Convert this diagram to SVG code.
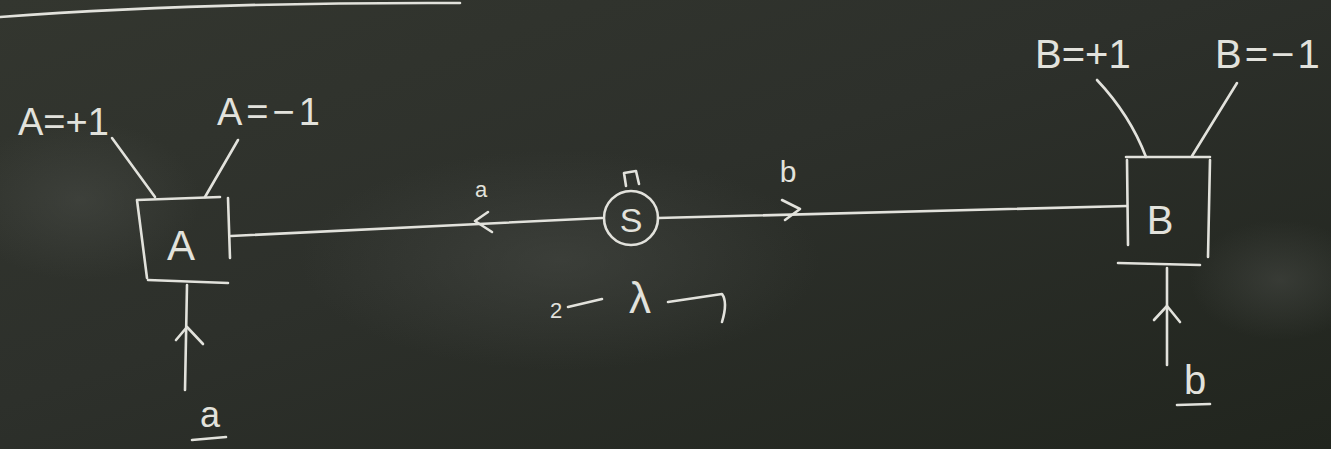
<svg xmlns="http://www.w3.org/2000/svg" width="1331" height="449" viewBox="0 0 1331 449">
<defs>
<linearGradient id="bg" x1="0" y1="0" x2="1" y2="1">
<stop offset="0" stop-color="#33362f"/>
<stop offset="0.45" stop-color="#2d302b"/>
<stop offset="1" stop-color="#21251e"/>
</linearGradient>
<radialGradient id="haze1" cx="0.5" cy="0.5" r="0.5">
<stop offset="0" stop-color="#4a4d48" stop-opacity="0.5"/>
<stop offset="1" stop-color="#4a4d48" stop-opacity="0"/>
</radialGradient>
</defs>
<style>
.ch{fill:none;stroke:#e2e2dc;stroke-width:2.6;stroke-linecap:round;stroke-linejoin:round}
.tx{fill:#e2e2dc;font-family:"Liberation Sans",Arial,sans-serif;font-weight:normal}
</style>
<rect x="0" y="0" width="1331" height="449" fill="url(#bg)"/>
<ellipse cx="560" cy="260" rx="260" ry="110" fill="url(#haze1)"/>
<ellipse cx="1280" cy="280" rx="90" ry="60" fill="url(#haze1)"/>
<ellipse cx="80" cy="200" rx="120" ry="80" fill="url(#haze1)"/>
<path class="ch" d="M0,17 Q200,2 460,3" stroke-width="2.2"/>

<g id="connectors">
<path class="ch" d="M112,138 L155,197"/>
<path class="ch" d="M238,140 L205,197"/>
<path class="ch" d="M231,236 L602,218"/>
<path class="ch" d="M488,212 L475,221 L492,232"/>
<path class="ch" d="M658,218 L1127,206"/>
<path class="ch" d="M782,200 L800,209 L785,220"/>
<path class="ch" d="M1097,80 Q1130,115 1146,157"/>
<path class="ch" d="M1237,83 L1192,156"/>
<path class="ch" d="M187,285 L185,390"/>
<path class="ch" d="M176,340 L187,327 L203,344"/>
<path class="ch" d="M1167,268 L1167,365"/>
<path class="ch" d="M1154,320 L1167,306 L1180,322"/>
</g>

<g id="nodeA">
<path class="ch" d="M137,200 L220,197 M147,278 L137,200 M228,198 L230,258 M148,280 L228,283"/>
<text class="tx" x="181" y="260" font-size="42" text-anchor="middle">A</text>
</g>
<g id="labelA1"><text class="tx" x="18" y="135" font-size="38">A=+1</text></g>
<g id="labelA2"><text class="tx" x="217" y="125" font-size="38" letter-spacing="4">A=−1</text></g>
<g id="inA"><text class="tx" x="210" y="427" font-size="36" text-anchor="middle">a</text><path class="ch" d="M192,440 L226,437"/></g>

<g id="nodeS">
<circle class="ch" cx="631" cy="218" r="27"/>
<path class="ch" d="M626,186 L624,173 L636,171 L639,184"/>
<text class="tx" x="631" y="232" font-size="34" text-anchor="middle">S</text>
</g>
<g id="labela"><text class="tx" x="481" y="197" font-size="22" text-anchor="middle">a</text></g>
<g id="labelb"><text class="tx" x="788" y="182" font-size="30" text-anchor="middle">b</text></g>
<g id="lambda">
<text class="tx" x="556" y="318" font-size="22" text-anchor="middle">2</text>
<path class="ch" d="M568,307 L602,299"/>
<text class="tx" x="640" y="313" font-size="44" text-anchor="middle">λ</text>
<path class="ch" d="M668,302 L722,294 Q728,302 722,322"/>
</g>

<g id="nodeB">
<path class="ch" d="M1126,157 L1210,157 M1127,160 L1128,245 M1210,160 L1208,257 M1118,263 L1200,265"/>
<text class="tx" x="1160" y="234" font-size="40" text-anchor="middle">B</text>
</g>
<g id="labelB1"><text class="tx" x="1035" y="68" font-size="40">B=+1</text></g>
<g id="labelB2"><text class="tx" x="1215" y="68" font-size="40" letter-spacing="3">B=−1</text></g>
<g id="inB"><text class="tx" x="1195" y="394" font-size="40" text-anchor="middle">b</text><path class="ch" d="M1177,405 L1210,404"/></g>
</svg>
